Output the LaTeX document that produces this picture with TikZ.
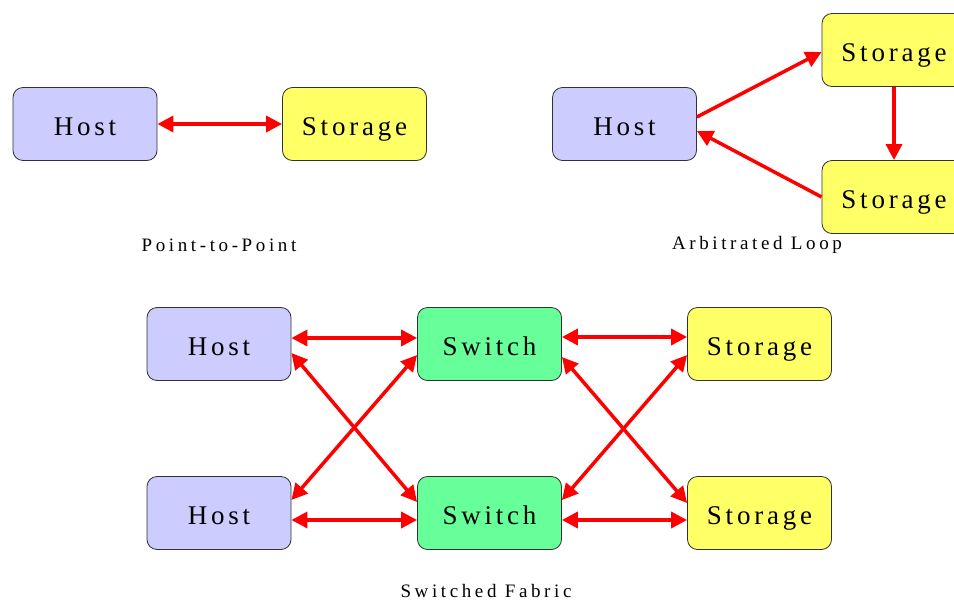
\documentclass[tikz,border=0pt]{standalone}
\usepackage{fontspec}
\setmainfont{Liberation Serif}
\newfontfamily\boxfont[LetterSpace=14]{Liberation Serif}
\newfontfamily\capfont[LetterSpace=19]{Liberation Serif}
\usetikzlibrary{arrows.meta}
\definecolor{hostfill}{RGB}{204,204,255}
\definecolor{storefill}{RGB}{255,255,102}
\definecolor{switchfill}{RGB}{102,255,153}
\definecolor{boxline}{RGB}{50,50,50}
\tikzset{
  unit/.style={draw=boxline, line width=0.8pt, rounded corners=10pt,
    minimum width=144pt, minimum height=73pt, inner sep=0pt,
    text height=24pt, text depth=2pt,
    font=\boxfont\fontsize{27}{30}\selectfont},
  hostbox/.style={unit, fill=hostfill},
  storebox/.style={unit, fill=storefill},
  switchbox/.style={unit, fill=switchfill},
  caption/.style={font=\capfont\fontsize{19}{22}\selectfont},
  tip/.tip={Triangle[length=16pt,width=16pt]},
  link/.style={draw=red, line width=3.5pt, -tip},
  duplex/.style={draw=red, line width=3.5pt, tip-tip}
}
\begin{document}
\begin{tikzpicture}[x=1pt,y=-1pt]
\useasboundingbox (0,0) rectangle (954,600);
\clip (0,0) rectangle (954,600);
\fill[white] (0,0) rectangle (954,600);

% Point-to-Point
\node[hostbox]  (pH) at (85,124)  {Host};
\node[storebox] (pS) at (354.5,124) {Storage};
\draw[duplex] (pH.east) -- (pS.west);
\node[caption] (pCap) at (219,245) {Point-to-Point};

% Arbitrated Loop
\node[hostbox]  (aH)  at (624.5,124) {Host};
\node[storebox] (aS1) at (894,50)    {Storage};
\node[storebox] (aS2) at (894,197)   {Storage};
\draw[link] ([yshift=7pt]aH.east) -- ([yshift=-2pt]aS1.west);
\draw[link] (aS1.south) -- (aS2.north);
\draw[link] (aS2.west) -- ([yshift=-7pt]aH.east);
\node[caption] (aCap) at (757,245) {Arbitrated Loop};

% Switched Fabric
\node[hostbox]   (fH1) at (219,344)   {Host};
\node[hostbox]   (fH2) at (219,513)   {Host};
\node[switchbox] (fW1) at (489.5,344) {Switch};
\node[switchbox] (fW2) at (489.5,513) {Switch};
\node[storebox]  (fS1) at (759.5,344) {Storage};
\node[storebox]  (fS2) at (759.5,513) {Storage};

\draw[duplex] ([yshift=6pt]fH1.east) -- ([yshift=6pt]fW1.west);
\draw[duplex] ([yshift=-7pt]fH2.east) -- ([yshift=-7pt]fW2.west);
\draw[duplex] ([yshift=-9pt]fH1.east) -- ([yshift=11pt]fW2.west);
\draw[duplex] ([yshift=-11pt]fW1.west) -- ([yshift=13pt]fH2.east);

\draw[duplex] ([yshift=7pt]fW1.east) -- ([yshift=7pt]fS1.west);
\draw[duplex] ([yshift=-7pt]fW2.east) -- ([yshift=-7pt]fS2.west);
\draw[duplex] ([yshift=-13pt]fW1.east) -- ([yshift=10pt]fS2.west);
\draw[duplex] ([yshift=13pt]fW2.east) -- ([yshift=-11pt]fS1.west);

\node[caption] (fCap) at (486,591) {Switched Fabric};
\end{tikzpicture}
\end{document}
